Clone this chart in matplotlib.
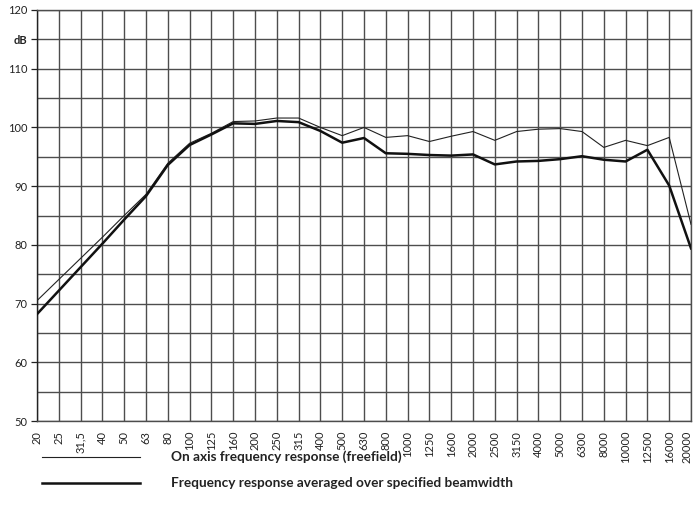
import matplotlib
matplotlib.use("Agg")
import matplotlib.pyplot as plt
from matplotlib.lines import Line2D
import matplotlib.transforms as mtransforms

plt.rcParams['font.family'] = ['Lato', 'DejaVu Sans']

freqs = ["20", "25", "31.5", "40", "50", "63", "80", "100", "125", "160", "200",
         "250", "315", "400", "500", "630", "800", "1000", "1250", "1600", "2000",
         "2500", "3150", "4000", "5000", "6300", "8000", "10000", "12500", "16000", "20000"]
freq_labels = ["20", "25", "31,5", "40", "50", "63", "80", "100", "125", "160", "200",
               "250", "315", "400", "500", "630", "800", "1000", "1250", "1600", "2000",
               "2500", "3150", "4000", "5000", "6300", "8000", "10000", "12500", "16000", "20000"]

on_axis = [70.5, 74.1, 77.7, 81.3, 85.0, 88.6, 93.9, 97.3, 99.0, 101.0, 101.1,
           101.6, 101.6, 100.0, 98.6, 100.0, 98.3, 98.6, 97.6, 98.5, 99.3,
           97.8, 99.3, 99.7, 99.8, 99.3, 96.6, 97.8, 96.9, 98.3, 83.5]
beamwidth = [68.2, 72.2, 76.2, 80.2, 84.3, 88.3, 93.6, 97.0, 98.8, 100.7, 100.6,
             101.1, 100.9, 99.4, 97.4, 98.2, 95.6, 95.5, 95.3, 95.2, 95.4,
             93.7, 94.2, 94.3, 94.6, 95.1, 94.5, 94.2, 96.2, 90.1, 79.4]

legend_labels = ["On axis frequency response (freefield)",
                 "Frequency response averaged over specified beamwidth"]

yticks = [50, 60, 70, 80, 90, 100, 110, 115, 120]
ytick_labels = ["50", "60", "70", "80", "90", "100", "110", "dB", "120"]

fig = plt.figure(figsize=(6.94, 5.28), dpi=100)
ax = fig.add_axes([37/694, 1 - 421/528, (691-37)/694, (421-10)/528])

x = list(range(len(freqs)))
ax.plot(x, on_axis, color='#222222', lw=0.8, zorder=3)
ax.plot(x, beamwidth, color='#111111', lw=1.8, zorder=3)

ax.set_xlim(0, len(freqs) - 1)
ax.set_ylim(50, 120)

# grid
for xi in x:
    ax.axvline(xi, color='#4d4d4d', lw=1.0, zorder=1)
for yv in range(50, 121, 5):
    ax.axhline(yv, color='#4d4d4d', lw=1.0, zorder=1)

for s in ax.spines.values():
    s.set_color('#4d4d4d')
    s.set_linewidth(1.0)
ax.spines['left'].set_color('#222222')

ax.set_xticks(x)
ax.set_xticklabels(freq_labels, rotation=90, fontsize=8, color='#222222')
ax.tick_params(axis='x', length=0, pad=7)
last = ax.get_xticklabels()[-1]
last.set_transform(last.get_transform() + mtransforms.ScaledTranslation(-4/100, 0, fig.dpi_scale_trans))
ax.set_yticks(yticks)
ax.set_yticklabels(ytick_labels, fontsize=8, color='#222222')
ax.tick_params(axis='y', length=4, width=0.9, color='#222222', pad=3)
for lbl in ax.get_yticklabels():
    if lbl.get_text() == "dB":
        lbl.set_fontweight('bold')

# legend below
fig.add_artist(Line2D([42/694, 140/694], [1 - 457/528, 1 - 457/528], color='#222222', lw=0.8))
fig.add_artist(Line2D([42/694, 140/694], [1 - 483/528, 1 - 483/528], color='#111111', lw=1.8))
fig.text(171/694, 1 - 457/528, legend_labels[0], fontsize=9.8, fontweight='bold',
         va='center', ha='left', color='#222222')
fig.text(171/694, 1 - 483/528, legend_labels[1], fontsize=9.8, fontweight='bold',
         va='center', ha='left', color='#222222')

fig.savefig("out.png", dpi=100)
